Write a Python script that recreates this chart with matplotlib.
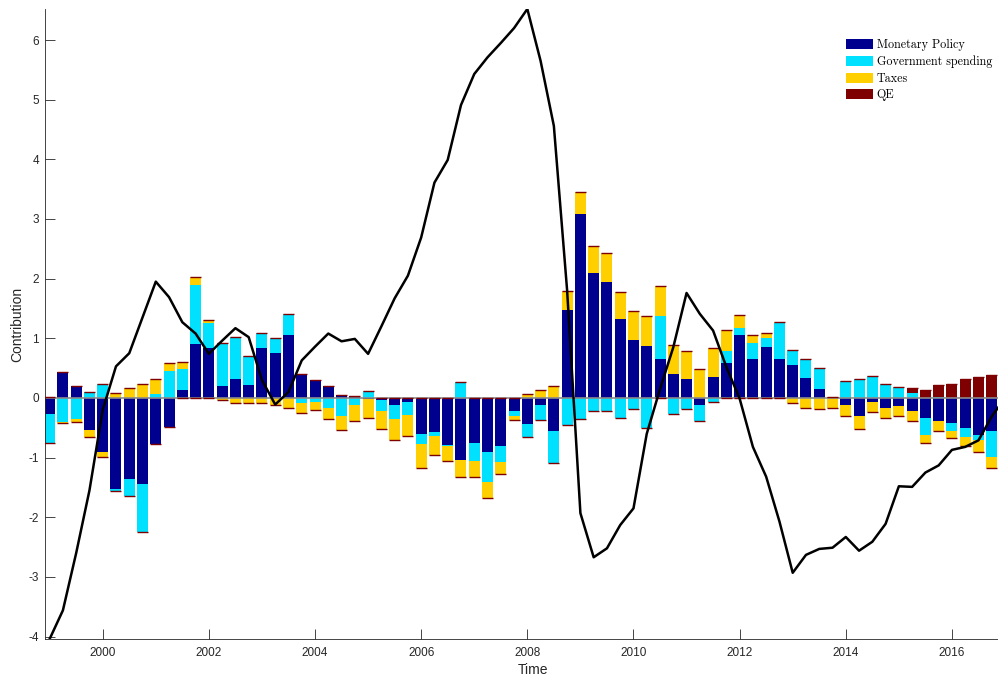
import numpy as np
import matplotlib
matplotlib.use('Agg')
import matplotlib.pyplot as plt

plt.rcParams.update({
    'font.family': ['Liberation Sans', 'DejaVu Sans'],
    'axes.unicode_minus': False,
})

# quarterly contributions, 1999Q1 .. 2016Q4
years = np.arange(1999, 2017)
monetary = [-0.27, 0.43, 0.20, -0.53,
            -0.90, -1.53, -1.36, -1.44,
            -0.77, -0.49, 0.13, 0.91,
            0.83, 0.20, 0.31, 0.21,
            0.83, 0.76, 1.06, 0.40,
            0.30, 0.20, 0.05, 0.03,
            -0.02, -0.03, -0.12, -0.06,
            -0.61, -0.57, -0.78, -1.04,
            -0.76, -0.91, -0.80, -0.22,
            -0.44, -0.12, -0.55, 1.48,
            3.08, 2.10, 1.95, 1.32,
            0.98, 0.87, 0.66, 0.40,
            0.31, -0.12, 0.35, 0.58,
            1.05, 0.65, 0.85, 0.65,
            0.55, 0.33, 0.15, 0.01,
            -0.11, -0.30, -0.06, -0.17,
            -0.13, -0.22, -0.34, -0.39,
            -0.42, -0.51, -0.62, -0.56]
gov_spending = [-0.48, -0.40, -0.36, 0.10,
                0.23, -0.03, -0.28, -0.81,
                0.07, 0.45, 0.35, 0.99,
                0.42, 0.72, 0.72, 0.49,
                0.26, 0.24, 0.35, -0.09,
                -0.06, -0.16, -0.31, -0.11,
                0.12, -0.18, -0.23, -0.22,
                -0.16, -0.06, -0.02, 0.26,
                -0.30, -0.50, -0.28, -0.08,
                -0.22, -0.25, -0.54, -0.45,
                -0.35, -0.22, -0.22, -0.33,
                -0.19, -0.51, 0.71, -0.27,
                -0.19, -0.27, -0.07, 0.20,
                0.13, 0.27, 0.16, 0.60,
                0.25, 0.32, 0.35, 0.01,
                0.28, 0.32, 0.37, 0.24,
                0.19, 0.08, -0.28, 0.01,
                -0.13, -0.15, -0.08, -0.43]
taxes = [0.02, -0.02, -0.05, -0.12,
         -0.09, 0.09, 0.17, 0.23,
         0.25, 0.14, 0.12, 0.12,
         0.06, -0.03, -0.08, -0.09,
         -0.08, -0.12, -0.16, -0.16,
         -0.14, -0.19, -0.23, -0.28,
         -0.31, -0.31, -0.36, -0.36,
         -0.40, -0.32, -0.25, -0.28,
         -0.27, -0.26, -0.19, -0.07,
         0.07, 0.14, 0.20, 0.32,
         0.38, 0.45, 0.48, 0.45,
         0.48, 0.50, 0.50, 0.48,
         0.48, 0.49, 0.48, 0.36,
         0.21, 0.14, 0.08, 0.02,
         -0.08, -0.16, -0.18, -0.16,
         -0.19, -0.22, -0.18, -0.17,
         -0.18, -0.17, -0.14, -0.16,
         -0.12, -0.14, -0.20, -0.19]
qe = [0.0] * 65 + [0.08, 0.13, 0.21, 0.23, 0.31, 0.35, 0.38]

# black line, 1999Q1 .. 2017Q1
line_vals = [-4.04, -3.56, -2.60, -1.55,
             -0.20, 0.53, 0.75, 1.35,
             1.95, 1.69, 1.27, 1.08,
             0.74, 0.96, 1.17, 1.02,
             0.30, -0.11, 0.10, 0.63,
             0.86, 1.08, 0.95, 0.99,
             0.74, 1.20, 1.67, 2.05,
             2.69, 3.61, 3.99, 4.91,
             5.43, 5.71, 5.95, 6.20,
             6.52, 5.65, 4.56, 1.80,
             -1.93, -2.67, -2.52, -2.13,
             -1.85, -0.60, 0.15, 0.85,
             1.76, 1.41, 1.13, 0.52,
             -0.01, -0.82, -1.32, -2.07,
             -2.93, -2.63, -2.53, -2.51,
             -2.33, -2.56, -2.41, -2.11,
             -1.48, -1.49, -1.25, -1.13,
             -0.87, -0.82, -0.71, -0.31,
             0.00]

names = ['Monetary Policy', 'Government spending', 'Taxes', 'QE']
colors = ['#00008F', '#00E0FF', '#FFCF00', '#7F0000']
series = [monetary, gov_spending, taxes, qe]

t = np.repeat(years, 4) + np.tile([0, 0.25, 0.5, 0.75], len(years))
t_line = np.append(t, t[-1] + 0.25)
w = 0.207

fig = plt.figure(figsize=(9.98, 6.77), dpi=100)
ax = fig.add_axes([44.7 / 998, 1 - 639 / 677, (1022 - 44.7) / 998, 630 / 677])

pos = np.zeros(len(t))
neg = np.zeros(len(t))
for name, col, vals in zip(names, colors, series):
    v = np.array(vals)
    bottom = np.where(v >= 0, pos, neg)
    ax.bar(t, v, w, bottom=bottom, color=col, edgecolor='none', label=name, zorder=2)
    pos += np.where(v > 0, v, 0)
    neg += np.where(v < 0, v, 0)

# thin QE-coloured caps at both ends of each stack
ax.hlines(pos, t - w / 2, t + w / 2, color=colors[3], lw=1.0, zorder=3)
ax.hlines(neg, t - w / 2, t + w / 2, color=colors[3], lw=1.0, zorder=3)
ax.axhline(0, color='#8a8a8a', lw=1.2, zorder=2.5)

ax.plot(t_line, line_vals, color='black', lw=1.8, zorder=4)

ax.set_xlim(1998.907, 2017.32)
ax.set_ylim(-4.04, 6.52)
ax.set_xticks(np.arange(2000, 2017, 2))
ax.set_yticks(np.arange(-4, 7, 1))
ax.tick_params(direction='in', length=7, width=0.6, color='#262626',
               labelcolor='#262626', labelsize=8.5)
ax.tick_params(axis='x', pad=6)
ax.tick_params(axis='y', pad=4)
for s in ['top', 'right']:
    ax.spines[s].set_visible(False)
for s in ['left', 'bottom']:
    ax.spines[s].set_linewidth(0.6)
    ax.spines[s].set_color('#262626')

ax.set_xlabel('Time', fontsize=10, color='#262626', labelpad=3)
ax.set_ylabel('Contribution', fontsize=10, color='#262626', labelpad=3)

ax.legend(loc='upper left', bbox_to_anchor=(0.8199, 0.9524), frameon=False,
          prop={'family': 'cmr10', 'size': 8.7}, borderpad=0, borderaxespad=0,
          handlelength=2.24, handleheight=0.91, handletextpad=0.3,
          labelspacing=0.36)

fig.savefig('out.png', dpi=100)
